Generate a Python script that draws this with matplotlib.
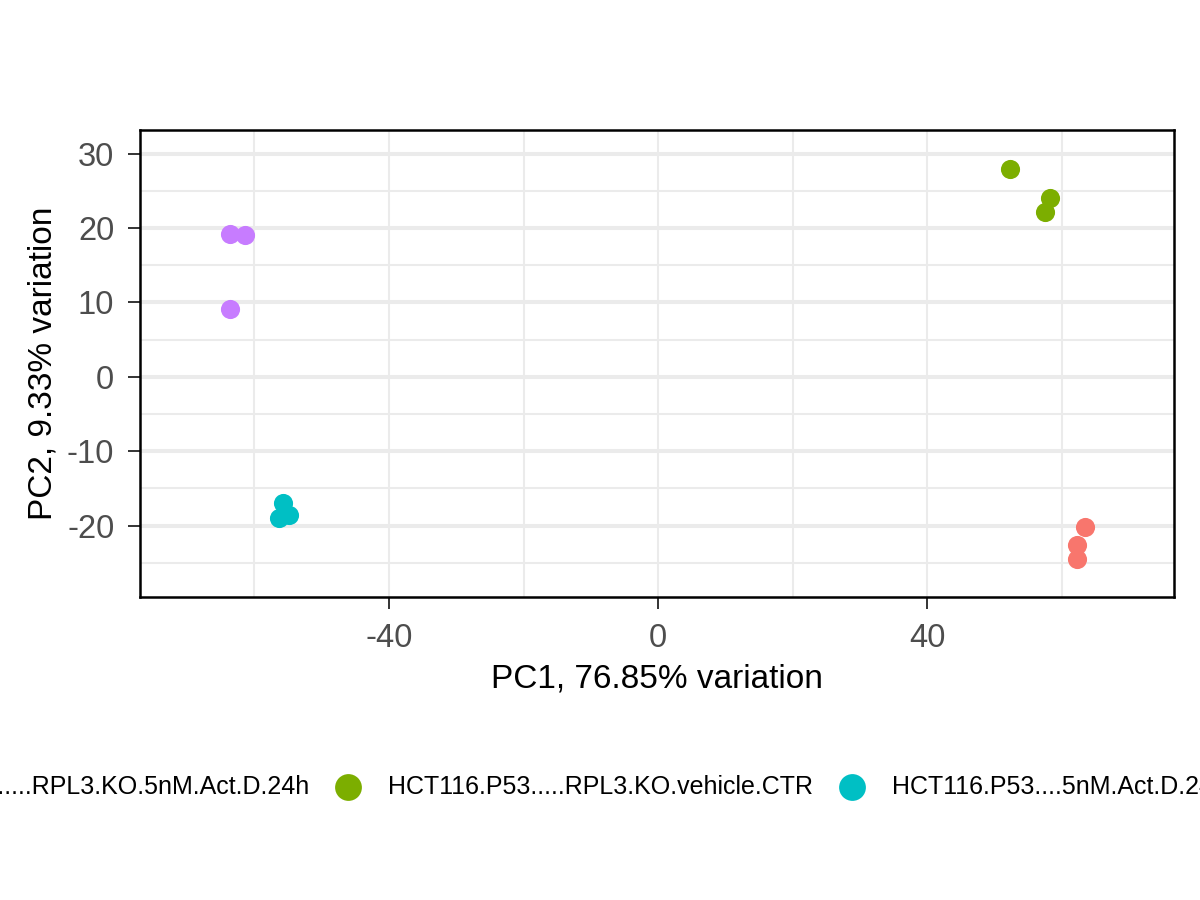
import numpy as np
import matplotlib.pyplot as plt
from matplotlib.ticker import MultipleLocator

plt.rcParams['font.family'] = ['Liberation Sans', 'DejaVu Sans']
plt.rcParams['axes.unicode_minus'] = False

# groups (ggplot default hue palette order)
groups = ['HCT116.P53.....RPL3.KO.5nM.Act.D.24h',
          'HCT116.P53.....RPL3.KO.vehicle.CTR',
          'HCT116.P53....5nM.Act.D.24h',
          'HCT116.P53....vehicle.CTR']
colors = ['#F8766D', '#7CAE00', '#00BFC4', '#C77CFF']

# PC scores
pc1 = [[63.5, 62.3, 62.3],
       [52.3, 58.3, 57.5],
       [-55.8, -54.9, -56.4],
       [-63.6, -61.4, -63.6]]
pc2 = [[-20.2, -22.6, -24.5],
       [27.9, 24.1, 22.2],
       [-17.0, -18.6, -19.0],
       [19.25, 19.1, 9.15]]

fig = plt.figure(figsize=(12, 9), dpi=100)
ax = fig.add_axes([0.1167, 0.3367, 0.8617, 0.5189])

for g, c, x, y in zip(groups, colors, pc1, pc2):
    ax.scatter(x, y, s=190, color=c, label=g, zorder=3, linewidths=0)

ax.set_xlim(-77, 76.7)
ax.set_ylim(-29.6, 33.2)
ax.xaxis.set_major_locator(MultipleLocator(40))
ax.xaxis.set_minor_locator(MultipleLocator(20))
ax.yaxis.set_major_locator(MultipleLocator(10))
ax.yaxis.set_minor_locator(MultipleLocator(5))

ax.grid(which='major', axis='y', color='#EBEBEB', lw=2.9)
ax.grid(which='minor', axis='y', color='#EBEBEB', lw=1.5)
ax.grid(which='major', axis='x', color='#EBEBEB', lw=1.5)
ax.grid(which='minor', axis='x', color='#EBEBEB', lw=1.5)
ax.set_axisbelow(True)

for s in ax.spines.values():
    s.set_color('black')
    s.set_linewidth(1.8)

ax.tick_params(which='major', length=8.5, width=1.4, color='#333333',
               labelcolor='#4D4D4D', labelsize=23.5, pad=10)
ax.tick_params(which='minor', length=0)

ax.set_xlabel('PC1, 76.85% variation', fontsize=24, labelpad=7)
ax.set_ylabel('PC2, 9.33% variation', fontsize=24, labelpad=6)

fig.legend(loc='center left', bbox_to_anchor=(-210 / 1200, 1 - 787 / 900),
           ncol=4, frameon=False, fontsize=18, handlelength=1.0,
           handletextpad=1.1, columnspacing=1.06, borderpad=0,
           markerscale=1.4)

fig.savefig('out.png', dpi=100)
